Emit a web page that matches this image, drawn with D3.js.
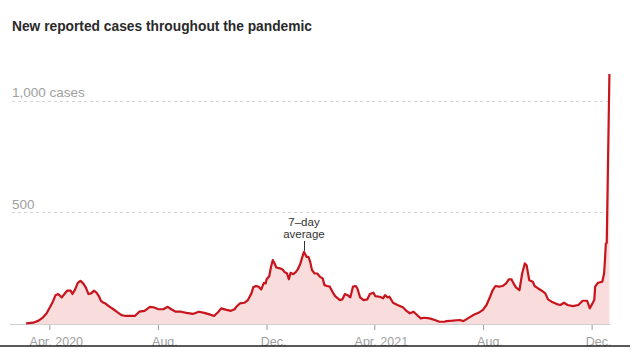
<!DOCTYPE html>
<html>
<head>
<meta charset="utf-8">
<script src="https://cdn.jsdelivr.net/npm/d3@7"></script>
<style>
  html, body { margin: 0; padding: 0; background: #fff; }
  svg { display: block; }
</style>
</head>
<body>
<svg id="chart" width="632" height="356"></svg>
<script>
const titleText = "New reported cases throughout the pandemic";
const yTickValues = [500, 1000];
const yTickLabels = ["500", "1,000 cases"];
const xTickDates = ["2020-04-01", "2020-08-01", "2020-12-01", "2021-04-01", "2021-08-01", "2021-12-01"];
const xTickLabels = ["Apr. 2020", "Aug.", "Dec.", "Apr. 2021", "Aug.", "Dec."];
const annotationLines = ["7\u2013day", "average"];
const annotationDate = "2021-01-12";
const annotationValue = 323;

const dates = [
"2020-03-06","2020-03-14","2020-03-20","2020-03-25","2020-03-29","2020-04-02","2020-04-05","2020-04-08","2020-04-11","2020-04-15",
"2020-04-18","2020-04-21","2020-04-25","2020-04-27","2020-04-30","2020-05-03","2020-05-06","2020-05-09","2020-05-12","2020-05-15",
"2020-05-18","2020-05-21","2020-05-24","2020-05-27","2020-05-29","2020-06-01","2020-06-03","2020-06-05","2020-06-08","2020-06-12",
"2020-06-16","2020-06-21","2020-06-26","2020-06-30","2020-07-06","2020-07-11","2020-07-17","2020-07-23","2020-07-27","2020-08-01",
"2020-08-07","2020-08-12","2020-08-16","2020-08-21","2020-08-27","2020-09-02","2020-09-09","2020-09-16","2020-09-22","2020-09-28",
"2020-10-03","2020-10-08","2020-10-11","2020-10-17","2020-10-22","2020-10-26","2020-10-28","2020-11-01","2020-11-06","2020-11-10",
"2020-11-14","2020-11-16","2020-11-19","2020-11-22","2020-11-25","2020-11-28","2020-11-30","2020-12-01","2020-12-04","2020-12-06",
"2020-12-08","2020-12-10","2020-12-12","2020-12-16","2020-12-19","2020-12-21","2020-12-24","2020-12-26","2020-12-28","2020-12-31",
"2021-01-03","2021-01-05","2021-01-08","2021-01-10","2021-01-12","2021-01-15","2021-01-17","2021-01-19","2021-01-21","2021-01-24",
"2021-01-27","2021-01-30","2021-02-02","2021-02-04","2021-02-07","2021-02-10","2021-02-13","2021-02-16","2021-02-19","2021-02-21",
"2021-02-24","2021-02-27","2021-03-02","2021-03-05","2021-03-08","2021-03-11","2021-03-13","2021-03-16","2021-03-20","2021-03-24",
"2021-03-27","2021-03-31","2021-04-02","2021-04-07","2021-04-11","2021-04-13","2021-04-16","2021-04-18","2021-04-22","2021-04-27",
"2021-05-03","2021-05-07","2021-05-11","2021-05-15","2021-05-19","2021-05-23","2021-05-27","2021-06-02","2021-06-08","2021-06-13",
"2021-06-19","2021-06-21","2021-06-28","2021-07-06","2021-07-10","2021-07-15","2021-07-21","2021-07-27","2021-08-01","2021-08-05",
"2021-08-09","2021-08-12","2021-08-15","2021-08-19","2021-08-23","2021-08-27","2021-08-30","2021-09-02","2021-09-04","2021-09-07",
"2021-09-11","2021-09-14","2021-09-17","2021-09-19","2021-09-22","2021-09-26","2021-09-28","2021-10-02","2021-10-06","2021-10-10",
"2021-10-13","2021-10-17","2021-10-23","2021-10-27","2021-10-31","2021-11-04","2021-11-10","2021-11-16","2021-11-21","2021-11-26",
"2021-11-29","2021-12-01","2021-12-04","2021-12-05","2021-12-08","2021-12-13","2021-12-15","2021-12-16","2021-12-17","2021-12-18",
"2021-12-21"
];
const cases = [
3,6,15,30,48,77,100,129,134,119,
134,149,149,134,155,184,193,182,164,134,
137,149,140,122,104,95,92,85,77,66,
54,40,36,36,36,55,59,77,75,67,
66,77,66,55,55,50,45,55,50,43,
36,55,70,63,59,66,77,92,95,107,
137,164,170,167,155,184,182,200,214,256,
286,271,253,249,244,233,226,200,229,223,
233,244,271,298,323,300,300,278,241,226,
226,211,204,174,170,167,144,125,115,107,
110,134,129,119,167,170,159,119,107,110,
134,140,125,122,115,129,119,122,95,85,
75,59,48,55,40,25,28,25,18,10,
10,13,15,18,13,25,40,50,63,85,
122,152,170,167,170,182,200,200,184,164,
152,226,271,263,196,189,170,159,149,137,
110,100,89,85,95,85,80,85,104,104,
70,85,107,167,184,189,226,286,360,363,
1119
];

const parse = d3.utcParse("%Y-%m-%d");
const data = dates.map((d, i) => ({ date: parse(d), value: cases[i] }));

const svg = d3.select("#chart");
const font = "'Liberation Sans', Arial, sans-serif";

const x = d3.scaleUtc()
  .domain([parse("2020-04-01"), parse("2021-12-01")])
  .range([49.3, 591.6]);
const y = d3.scaleLinear().domain([0, 1000]).range([324, 100.5]);

// title
svg.append("text")
  .attr("x", 12).attr("y", 31)
  .attr("font-family", font).attr("font-weight", "bold")
  .attr("font-size", 15).attr("fill", "#2a2a2a")
  .attr("textLength", 300).attr("lengthAdjust", "spacingAndGlyphs")
  .text(titleText);

// gridlines + y labels
const grid = svg.append("g");
yTickValues.forEach((v, i) => {
  grid.append("line")
    .attr("x1", 12).attr("x2", 608)
    .attr("y1", Math.round(y(v)) + 0.5).attr("y2", Math.round(y(v)) + 0.5)
    .attr("stroke", "#d4d4d4").attr("stroke-width", 1)
    .attr("stroke-dasharray", "3,3");
  grid.append("text")
    .attr("x", 12).attr("y", y(v) - 3.5)
    .attr("font-family", font).attr("font-size", 13.5)
    .attr("fill", "#a0a0a0")
    .text(yTickLabels[i]);
});

// baseline
svg.append("line")
  .attr("x1", 10).attr("x2", 610)
  .attr("y1", y(0) + 0.5).attr("y2", y(0) + 0.5)
  .attr("stroke", "#cfcfcf").attr("stroke-width", 1);

// area & line
const area = d3.area()
  .x(d => x(d.date)).y0(y(0)).y1(d => y(d.value));
const line = d3.line()
  .x(d => x(d.date)).y(d => y(d.value));

svg.append("path").datum(data)
  .attr("d", area).attr("fill", "#f9dcdc");
svg.append("path").datum(data)
  .attr("d", line).attr("fill", "none")
  .attr("stroke", "#c8141c").attr("stroke-width", 2.2)
  .attr("stroke-linejoin", "round");

// x axis
const xAxis = d3.axisBottom(x)
  .tickValues(xTickDates.map(parse))
  .tickFormat((d, i) => xTickLabels[i])
  .tickSize(5).tickPadding(0);
const gx = svg.append("g")
  .attr("transform", `translate(0,${y(0) + 1})`)
  .call(xAxis);
gx.select(".domain").remove();
gx.selectAll(".tick line").attr("stroke", "#999");
gx.selectAll(".tick text")
  .attr("y", 21).attr("dy", 0).attr("dx", 6.5)
  .attr("font-family", font).attr("font-size", 12.5)
  .attr("fill", "#a0a0a0");

// annotation
const ax = x(parse(annotationDate));
const ann = svg.append("g");
annotationLines.forEach((t, i) => {
  ann.append("text")
    .attr("x", ax).attr("y", 225.5 + i * 12)
    .attr("text-anchor", "middle")
    .attr("font-family", font).attr("font-size", 11.5)
    .attr("fill", "#333").text(t);
});
ann.append("line")
  .attr("x1", Math.round(ax) + 0.5).attr("x2", Math.round(ax) + 0.5)
  .attr("y1", 241).attr("y2", y(annotationValue) - 1)
  .attr("stroke", "#333").attr("stroke-width", 1);

// bottom cover and rule
svg.append("rect").attr("x", 0).attr("y", 346.5).attr("width", 632).attr("height", 10).attr("fill", "#fff");
svg.append("line")
  .attr("x1", 0).attr("x2", 630)
  .attr("y1", 346).attr("y2", 346)
  .attr("stroke", "#222").attr("stroke-width", 1.3);
</script>
</body>
</html>
